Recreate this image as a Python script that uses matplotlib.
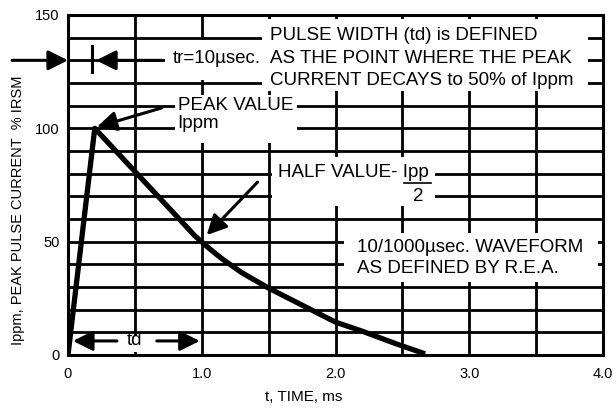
import matplotlib
matplotlib.use('Agg')
import matplotlib.pyplot as plt
from matplotlib.patches import Rectangle

plt.rcParams['font.family'] = ['Liberation Sans', 'DejaVu Sans']

# кривая импульса 10/1000 мкс
time_ms = [0, 0.2, 0.5, 0.8, 0.95, 1.05, 1.15, 1.3, 1.5, 1.65, 1.8, 2.0, 2.2, 2.45, 2.67]
current_pct = [0, 100, 81, 62, 52.5, 47.3, 42.5, 36.3, 29.5, 25, 20.5, 14.5, 10.5, 5, 0.5]

x_ticks = [0, 1.0, 2.0, 3.0, 4.0]
x_labels = ['0', '1.0', '2.0', '3.0', '4.0']
y_ticks = [0, 50, 100, 150]

fig = plt.figure(figsize=(6.16, 4.09), dpi=100)
ax = fig.add_axes([68 / 616, 1 - 355 / 409, 535 / 616, 340 / 409])

ax.set_xlim(0, 4.0)
ax.set_ylim(0, 150)
ax.set_xticks(x_ticks)
ax.set_xticklabels(x_labels)
ax.set_yticks(y_ticks)
ax.set_xticks([i * 0.5 for i in range(9)], minor=True)
ax.set_yticks(list(range(0, 151, 10)), minor=True)
ax.tick_params(which='both', length=0)
ax.tick_params(axis='x', pad=9, labelsize=10.5)
ax.tick_params(axis='y', pad=6, labelsize=10.5)
ax.set_axisbelow(True)
ax.grid(which='both', color='black', lw=2.0)
for sp in ax.spines.values():
    sp.set_linewidth(2.2)

ax.plot(time_ms, current_pct, color='black', lw=3.8, solid_joinstyle='round',
        solid_capstyle='butt', zorder=5)

# белые подложки под надписи (в координатах данных)
def px_box(x0, y0, x1, y1):
    t0, t1 = (x0 - 68) / 134, (x1 - 68) / 134
    v0, v1 = (355 - y1) / 2.267, (355 - y0) / 2.267
    ax.add_patch(Rectangle((t0, v0), t1 - t0, v1 - v0, facecolor='white',
                           edgecolor='none', zorder=3))

px_box(262, 19, 589, 91)    # PULSE WIDTH
px_box(165, 40, 262, 80)    # tr=10
px_box(175, 95, 297, 143)   # PEAK VALUE
px_box(272, 157, 436, 206)  # HALF VALUE
px_box(345, 233, 599, 282)  # WAVEFORM
px_box(120, 336, 155, 352)  # td

fs = 13.5
txt = dict(fontsize=fs, zorder=6, va='baseline', ha='left')
ax.text(1.507, 138.9, 'PULSE WIDTH (td) is DEFINED', **txt)
ax.text(1.507, 128.8, 'AS THE POINT WHERE THE PEAK', **txt)
ax.text(1.507, 119.1, 'CURRENT DECAYS to 50% of Ippm', **txt)
ax.text(0.78, 128.8, 'tr=10µsec.', **txt)
ax.text(0.82, 108.0, 'PEAK VALUE', **txt)
ax.text(0.82, 100.0, 'Ippm', **txt)
ax.text(1.567, 78.5, 'HALF VALUE- Ipp', **txt)
ax.plot([2.515, 2.716], [75.9, 75.9], color='black', lw=1.2, zorder=6)
ax.text(2.62, 68.0, '2', fontsize=fs, zorder=6, va='baseline', ha='center')
ax.text(2.164, 45.4, '10/1000µsec. WAVEFORM', **txt)
ax.text(2.164, 36.2, 'AS DEFINED BY R.E.A.', **txt)
ax.text(0.5, 6.6, 'td', fontsize=fs, zorder=6, va='center', ha='center')

arrow = dict(arrowstyle='-|>,head_length=0.6,head_width=0.3', mutation_scale=20,
             color='black', lw=2.2, shrinkA=0, shrinkB=0)

def draw_arrow(tail, tip):
    ax.annotate('', xy=tip, xytext=tail, arrowprops=arrow,
                annotation_clip=False, zorder=7)

draw_arrow((-0.418, 130), (0.0, 130))
draw_arrow((0.70, 130), (0.21, 130))
ax.plot([0.18, 0.18], [124.8, 136.3], color='black', lw=2.2, zorder=7)
draw_arrow((0.70, 109), (0.216, 100.6))
draw_arrow((1.418, 76.3), (1.037, 52.9))
draw_arrow((0.366, 6.2), (0.037, 6.2))
draw_arrow((0.664, 6.2), (0.985, 6.2))

fig.text(304 / 616, 1 - 397 / 409, 't, TIME, ms', fontsize=11, ha='center', va='center')
fig.text(18 / 616, 1 - 210 / 409, 'Ippm, PEAK PULSE CURRENT  % IRSM', fontsize=10.5,
         rotation=90, ha='center', va='center')

fig.savefig('out.png', dpi=100)
